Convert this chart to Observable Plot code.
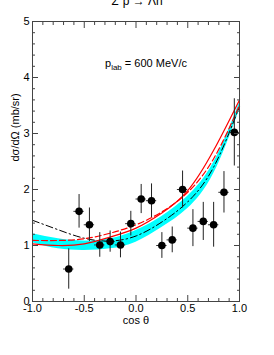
<!DOCTYPE html>
<html><head><meta charset="utf-8">
<script src="https://cdn.jsdelivr.net/npm/d3@7"></script>
<script src="https://cdn.jsdelivr.net/npm/@observablehq/plot@0.6"></script>
<style>body{margin:0;background:#fff;} #chart svg{overflow:visible}</style>
</head><body><div id="chart"></div>
<script>
// measured data points
const cosTheta = [-0.65,-0.55,-0.45,-0.35,-0.25,-0.15,-0.05,0.05,0.15,0.25,0.35,0.45,0.55,0.65,0.75,0.85,0.95];
const dsigma   = [0.58,1.61,1.37,1.01,1.07,1.01,1.39,1.83,1.80,1.00,1.10,2.00,1.31,1.43,1.37,1.95,3.02];
const dsigErr  = [0.36,0.30,0.30,0.22,0.19,0.23,0.22,0.26,0.30,0.23,0.23,0.33,0.33,0.34,0.40,0.37,0.60];
const binHalf = 0.05;

// model curves read at these cos θ values
const curveX      = [-1,-0.75,-0.5,-0.25,0,0.25,0.5,0.75,1];
const bandLow     = [1.05,0.94,0.91,0.94,1.06,1.32,1.66,2.28,3.42];
const bandHigh    = [1.21,1.12,1.08,1.12,1.27,1.52,1.88,2.48,3.55];
const dashDot     = [1.45,1.28,1.13,1.08,1.17,1.42,1.78,2.40,3.48];
const redDashed   = [1.09,1.09,1.12,1.22,1.37,1.60,1.95,2.55,3.50];
const redSolid    = [1.03,1.00,1.03,1.15,1.31,1.58,1.98,2.70,3.60];

const xMajor = [-1,-0.5,0,0.5,1];
const xMinor = [-0.9,-0.8,-0.7,-0.6,-0.4,-0.3,-0.2,-0.1,0.1,0.2,0.3,0.4,0.6,0.7,0.8,0.9];
const yMajor = [0,1,2,3,4,5];
const yMinor = [0.2,0.4,0.6,0.8,1.2,1.4,1.6,1.8,2.2,2.4,2.6,2.8,3.2,3.4,3.6,3.8,4.2,4.4,4.6,4.8];

const titleText = "Σ⁻p → Λn";
const xLabel = "cos θ";
const yLabel = "dσ/dΩ (mb/sr)";

const pts = cosTheta.map((x,i)=>({x, y:dsigma[i], e:dsigErr[i]}));
const grid = curveX.map((x,i)=>({x, lo:bandLow[i], hi:bandHigh[i], dd:dashDot[i], rd:redDashed[i], rs:redSolid[i]}));

const blank = () => "";
const axisCol = "#444";
const font = "'Liberation Sans', Arial, sans-serif";
const chart = Plot.plot({
  width:274, height:355, marginLeft:32, marginRight:35, marginTop:21, marginBottom:54,
  style:{fontFamily:font, fontSize:"11px", background:"#fff", color:"#000"},
  x:{domain:[-1,1]}, y:{domain:[0,5]},
  marks:[
    Plot.areaY(grid,{x:"x", y1:"lo", y2:"hi", fill:"#00ffff", curve:"natural"}),
    Plot.lineY(grid,{x:"x", y:"dd", stroke:"#000", strokeWidth:1, strokeDasharray:"7,3,1.5,3", curve:"natural"}),
    Plot.lineY(grid,{x:"x", y:"rd", stroke:"#ff0000", strokeWidth:1.2, strokeDasharray:"6,3", curve:"natural"}),
    Plot.lineY(grid,{x:"x", y:"rs", stroke:"#ff0000", strokeWidth:1.2, curve:"natural"}),
    Plot.ruleX(pts,{x:"x", y1:d=>d.y-d.e, y2:d=>d.y+d.e, stroke:"#222", strokeWidth:1}),
    Plot.ruleY(pts,{y:"y", x1:d=>d.x-binHalf, x2:d=>d.x+binHalf, stroke:"#333", strokeWidth:1}),
    Plot.dot(pts,{x:"x", y:"y", r:3.8, fill:"#000"}),
    Plot.frame({stroke:axisCol}),
    Plot.axisX({anchor:"bottom", ticks:xMajor, tickSize:0, tickPadding:3, tickFormat:d=>d.toFixed(1), label:null}),
    Plot.axisX({anchor:"bottom", ticks:xMajor, tickSize:-6, tickFormat:blank, label:null, stroke:axisCol}),
    Plot.axisX({anchor:"bottom", ticks:xMinor, tickSize:-3, tickFormat:blank, label:null, stroke:axisCol}),
    Plot.axisX({anchor:"top", ticks:xMajor, tickSize:-6, tickFormat:blank, label:null, stroke:axisCol}),
    Plot.axisX({anchor:"top", ticks:xMinor, tickSize:-3, tickFormat:blank, label:null, stroke:axisCol}),
    Plot.axisY({anchor:"left", ticks:yMajor, tickSize:0, tickPadding:3, tickFormat:d=>String(d), label:null}),
    Plot.axisY({anchor:"left", ticks:yMajor, tickSize:-6, tickFormat:blank, label:null, stroke:axisCol}),
    Plot.axisY({anchor:"left", ticks:yMinor, tickSize:-3, tickFormat:blank, label:null, stroke:axisCol}),
    Plot.axisY({anchor:"right", ticks:yMajor, tickSize:-6, tickFormat:blank, label:null, stroke:axisCol}),
    Plot.axisY({anchor:"right", ticks:yMinor, tickSize:-3, tickFormat:blank, label:null, stroke:axisCol}),
    Plot.text([xLabel],{frameAnchor:"bottom", dy:22, text:d=>d, fontSize:11}),
    Plot.text([yLabel],{frameAnchor:"left", dx:-17, rotate:-90, text:d=>d, fontSize:11})
  ]
});
document.getElementById("chart").appendChild(chart);
const svg = d3.select(chart);
svg.append("text").attr("x",137).attr("y",5).attr("text-anchor","middle")
  .attr("font-size",12).attr("font-family",font).text(titleText);
const t = svg.append("text").attr("x",105).attr("y",67).attr("text-anchor","start")
  .attr("font-size",11).attr("font-family",font);
t.append("tspan").text("p");
t.append("tspan").attr("font-size",8).attr("dy",3).text("lab");
t.append("tspan").attr("dy",-3).text(" = 600 MeV/c");
</script></body></html>
